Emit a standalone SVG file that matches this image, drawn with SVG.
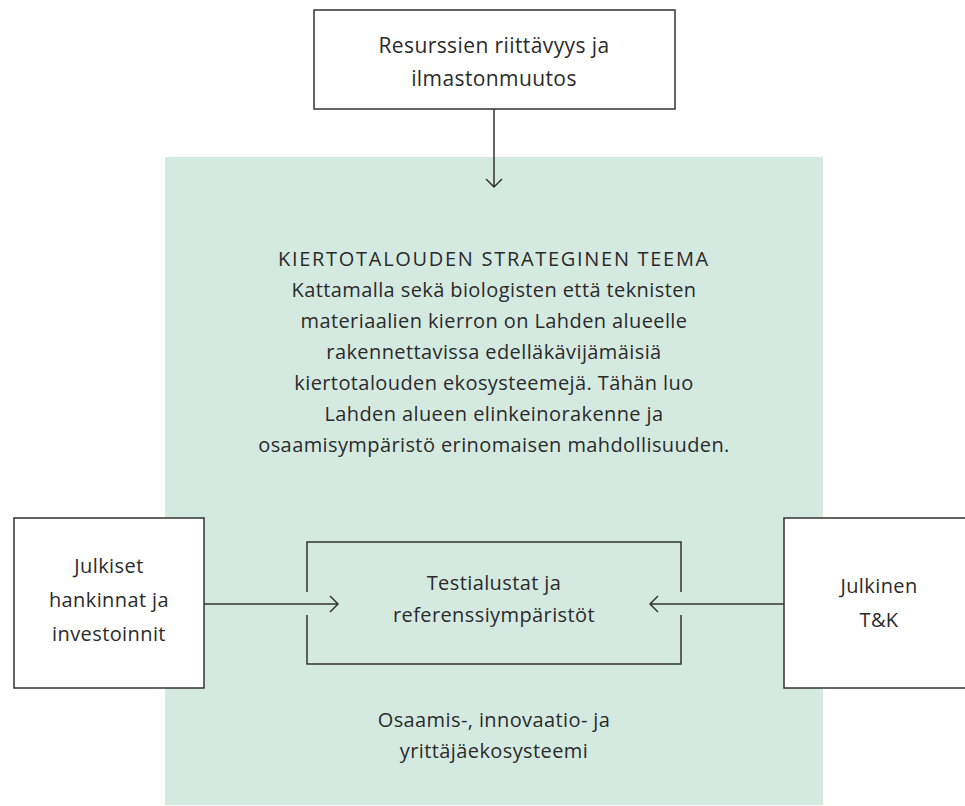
<svg xmlns="http://www.w3.org/2000/svg" width="965" height="806" viewBox="0 0 965 806">
<style>
.box{fill:#fff;stroke:#333;stroke-width:1.5}
.ln{fill:none;stroke:#333;stroke-width:1.5}
text{font-family:"Open Sans","Noto Sans",sans-serif;font-size:20px;letter-spacing:0.4px;fill:#2b2b2b;text-anchor:middle}
.t{letter-spacing:1.7px}
.big{font-size:21px}
</style>
<rect id="bg" x="165" y="157" width="658" height="648" fill="#d4eae1"/>
<g id="resurssit">
<rect class="box" x="314" y="10" width="361" height="99"/>
<text class="big" x="494" y="53">Resurssien riittävyys ja</text>
<text class="big" x="494" y="86">ilmastonmuutos</text>
</g>
<g id="teema">
<text class="t" x="494" y="266">KIERTOTALOUDEN STRATEGINEN TEEMA</text>
<text x="494" y="297">Kattamalla sekä biologisten että teknisten</text>
<text x="494" y="328">materiaalien kierron on Lahden alueelle</text>
<text x="494" y="359">rakennettavissa edelläkävijämäisiä</text>
<text x="494" y="390">kiertotalouden ekosysteemejä. Tähän luo</text>
<text x="494" y="421">Lahden alueen elinkeinorakenne ja</text>
<text x="494" y="452">osaamisympäristö erinomaisen mahdollisuuden.</text>
</g>
<g id="testialustat">
<path class="ln" d="M307,592 V542 H681 V592 M307,615 V664 H681 V615"/>
<text x="494" y="590">Testialustat ja</text>
<text x="494" y="622">referenssiympäristöt</text>
</g>
<g id="hankinnat">
<rect class="box" x="14" y="518" width="190" height="170"/>
<text x="109" y="573">Julkiset</text>
<text x="109" y="607">hankinnat ja</text>
<text x="109" y="641">investoinnit</text>
</g>
<g id="tk">
<rect class="box" x="784" y="518" width="190" height="170"/>
<text x="879" y="593">Julkinen</text>
<text x="879" y="627">T&amp;K</text>
</g>
<g id="ekosysteemi">
<text x="494" y="727">Osaamis-, innovaatio- ja</text>
<text x="494" y="758">yrittäjäekosysteemi</text>
</g>
<g id="connectors">
<path class="ln" d="M494,109 V187 M486,179 L494,187 L502,179"/>
<path class="ln" d="M204,604 H338 M330,596 L338,604 L330,612"/>
<path class="ln" d="M784,604 H650 M658,596 L650,604 L658,612"/>
</g>
</svg>
